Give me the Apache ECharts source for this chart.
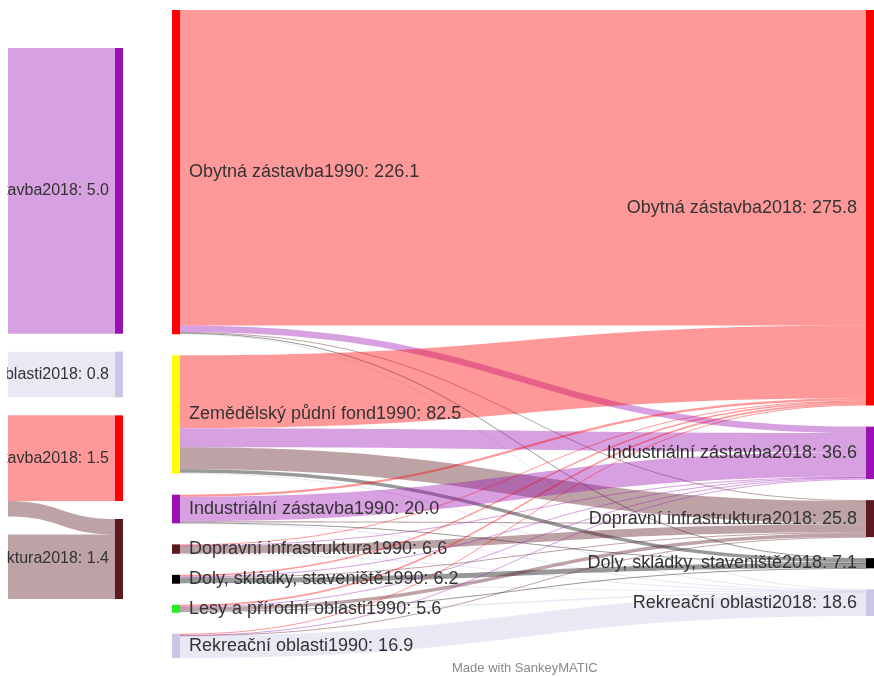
<!DOCTYPE html>
<html>
<head>
<meta charset="utf-8">
<script src="https://cdn.jsdelivr.net/npm/echarts@6/dist/echarts.min.js"></script>
<style>
  html, body { margin: 0; padding: 0; background: #fff; }
  #chart { width: 874px; height: 677px; }
</style>
</head>
<body>
<div id="chart"></div>
<script>
// hlavní diagram: 1990 -> 2018
var nodes1990 = [
  "Obytná zástavba1990",
  "Zemědělský půdní fond1990",
  "Industriální zástavba1990",
  "Dopravní infrastruktura1990",
  "Doly, skládky, staveniště1990",
  "Lesy a přírodní oblasti1990",
  "Rekreační oblasti1990"
];
var nodes2018 = [
  "Obytná zástavba2018",
  "Industriální zástavba2018",
  "Dopravní infrastruktura2018",
  "Doly, skládky, staveniště2018",
  "Rekreační oblasti2018"
];
// řádky = nodes1990, sloupce = nodes2018
var flows = [
  [219.9, 4.5, 0.6, 0.6, 0.5],
  [50.8, 13.2, 15.5, 2.4, 0.6],
  [1.5, 17.1, 0.8, 0.4, 0.2],
  [0.6, 0.3, 5.5, 0, 0.2],
  [1.0, 0.6, 0.7, 3.5, 0.4],
  [1.2, 0.6, 2.5, 0.2, 1.1],
  [0.8, 0.3, 0.2, 0, 15.6]
];

// oříznutý diagram vlevo
var sideSources = ["z1", "z2", "z3", "z4"];
var sideTargets = [
  "Industriální zástavba2018",
  "Rekreační oblasti2018",
  "Obytná zástavba2018",
  "Dopravní infrastruktura2018"
];
var sideFlows = [
  [5.0, 0, 0, 0],
  [0, 0.8, 0, 0],
  [0, 0, 1.5, 0.27],
  [0, 0, 0, 1.13]
];

var colorMap = {
  "Obytná zástavba": "#ff0000",
  "Zemědělský půdní fond": "#ffff00",
  "Industriální zástavba": "#9a12b3",
  "Dopravní infrastruktura": "#5c1a20",
  "Doly, skládky, staveniště": "#000000",
  "Lesy a přírodní oblasti": "#22ee22",
  "Rekreační oblasti": "#c9c6e6"
};
function colorOf(name) {
  return colorMap[name.replace(/\d{4}$/, "")];
}

function buildLinks(src, tgt, matrix) {
  var links = [];
  matrix.forEach(function (row, i) {
    row.forEach(function (v, j) {
      if (v > 0) links.push({ source: src[i], target: tgt[j], value: v });
    });
  });
  return links;
}

var font = '"Liberation Sans", Arial, sans-serif';
var labelFmt = function (p) { return p.name + ": " + p.value.toFixed(1); };

var mainData = nodes1990.map(function (n) {
  return { name: n, itemStyle: { color: colorOf(n) }, label: { position: "right" } };
}).concat(nodes2018.map(function (n) {
  return { name: n, itemStyle: { color: colorOf(n) }, label: { position: "left" } };
}));

var sideData = sideSources.map(function (n) {
  return { name: n, itemStyle: { color: "rgba(0,0,0,0)" }, label: { show: false } };
}).concat(sideTargets.map(function (n) {
  return { name: n, itemStyle: { color: colorOf(n) }, label: { position: "left" } };
}));

var chart = echarts.init(document.getElementById("chart"));
chart.setOption({
  backgroundColor: "#fff",
  animation: false,
  graphic: [
    {
      type: "text",
      left: 452,
      top: 662,
      style: { text: "Made with SankeyMATIC", fill: "#8a8a8a", font: "13px " + font }
    },
    {
      // okraj oříznutého obrázku
      type: "rect",
      left: 0,
      top: 0,
      z: 100,
      shape: { width: 7, height: 677 },
      style: { fill: "#fff" }
    }
  ],
  series: [
    {
      type: "sankey",
      left: 0,
      top: 48,
      width: 123,
      height: 551,
      nodeWidth: 8,
      nodeGap: 18,
      layoutIterations: 0,
      emphasis: { disabled: true },
      data: sideData,
      links: buildLinks(sideSources, sideTargets, sideFlows),
      label: { color: "#333", fontSize: 16, fontFamily: font, distance: 6, formatter: labelFmt },
      lineStyle: { color: "target", opacity: 0.4, curveness: 0.5 },
      itemStyle: { borderWidth: 0 }
    },
    {
      type: "sankey",
      left: 172,
      top: 10,
      width: 702,
      height: 648,
      nodeWidth: 8,
      nodeGap: 21,
      layoutIterations: 0,
      emphasis: { disabled: true },
      data: mainData,
      links: buildLinks(nodes1990, nodes2018, flows),
      label: { color: "#333", fontSize: 18, fontFamily: font, distance: 9, formatter: labelFmt },
      lineStyle: { color: "target", opacity: 0.4, curveness: 0.5 },
      itemStyle: { borderWidth: 0 }
    }
  ]
});
</script>
</body>
</html>
